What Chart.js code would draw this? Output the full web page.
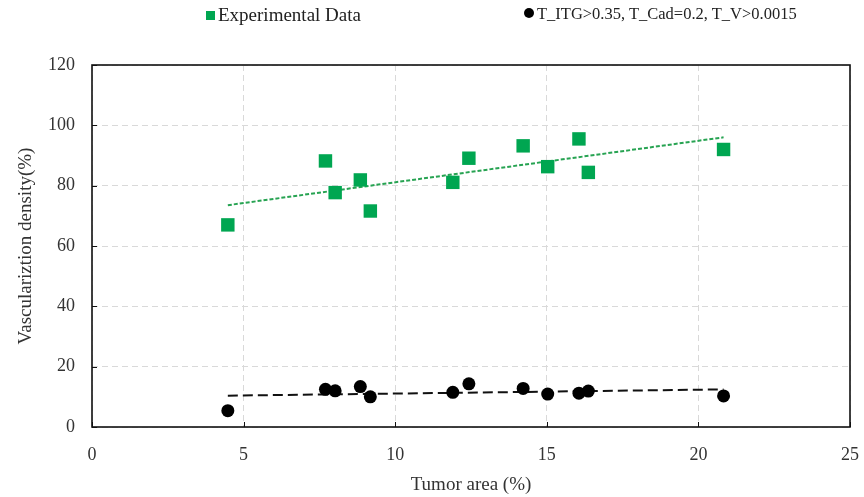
<!DOCTYPE html>
<html>
<head>
<meta charset="utf-8">
<script src="https://cdn.jsdelivr.net/npm/chart.js@4"></script>
<style>
  body { margin: 0; background: #fff; }
  #wrap { position: relative; width: 864px; height: 497px; }
  #legend { position: absolute; top: 4px; left: 0; width: 864px; height: 24px;
    font-family: 'Liberation Serif', serif; color: #222; }
  .item { position: absolute; top: 0; white-space: nowrap; }
  .mk { display: inline-block; width: 9px; height: 9px; margin-right: 3px; vertical-align: 1px; }
</style>
</head>
<body>
<div id="wrap">
  <canvas id="chart" width="864" height="497"></canvas>
  <div id="legend"></div>
</div>
<script>
// data
const tumorArea = [4.48, 7.7, 8.02, 8.85, 9.18, 11.9, 12.43, 14.22, 15.03, 16.06, 16.37, 20.83]
const experimental = [67.0, 88.2, 77.7, 81.9, 71.6, 81.1, 89.1, 93.2, 86.3, 95.5, 84.4, 92.0]
const simulated = [5.4, 12.5, 12.0, 13.4, 10.0, 11.5, 14.3, 12.8, 10.9, 11.2, 11.9, 10.3]
const seriesNames = ['Experimental Data', 'T_ITG>0.35, T_Cad=0.2, T_V>0.0015']
const xTicks = [0, 5, 10, 15, 20, 25]
const yTicks = [0, 20, 40, 60, 80, 100, 120]

const green = '#00a651'
const font = 'Liberation Serif'

// linear trendline (least squares), like the spreadsheet one
function trend(xs, ys) {
  const n = xs.length
  const mx = xs.reduce((a, b) => a + b, 0) / n
  const my = ys.reduce((a, b) => a + b, 0) / n
  let sxy = 0, sxx = 0
  xs.forEach((x, i) => { sxy += (x - mx) * (ys[i] - my); sxx += (x - mx) * (x - mx) })
  const k = sxy / sxx
  const x0 = Math.min(...xs), x1 = Math.max(...xs)
  return [{ x: x0, y: my + k * (x0 - mx) }, { x: x1, y: my + k * (x1 - mx) }]
}

const pts = ys => tumorArea.map((x, i) => ({ x, y: ys[i] }))

// ================= FRAME + INSIDE TICKS =================
const framePlugin = {
  id: 'frame',
  beforeDatasetsDraw(chart) {
    const { ctx, chartArea: a, scales } = chart
    ctx.save()
    ctx.strokeStyle = '#111'
    ctx.lineWidth = 1
    xTicks.forEach(v => {
      const px = Math.round(scales.x.getPixelForValue(v)) + 0.5
      ctx.beginPath(); ctx.moveTo(px, a.bottom); ctx.lineTo(px, a.bottom - 5); ctx.stroke()
    })
    yTicks.forEach(v => {
      const py = Math.round(scales.y.getPixelForValue(v)) + 0.5
      ctx.beginPath(); ctx.moveTo(a.left, py); ctx.lineTo(a.left + 5, py); ctx.stroke()
    })
    ctx.lineWidth = 1.6
    ctx.strokeRect(a.left, a.top, a.right - a.left, a.bottom - a.top)
    ctx.restore()
  }
}

const gridOpts = { color: '#d9d9d9', lineWidth: 1, tickLength: 0, drawTicks: false }

new Chart(document.getElementById('chart'), {
  type: 'scatter',
  data: {
    datasets: [
      {
        label: seriesNames[0], data: pts(experimental), order: 1,
        pointStyle: 'rect', pointRadius: 9.5, pointHoverRadius: 9.5,
        backgroundColor: green, borderColor: green, borderWidth: 0
      },
      {
        label: seriesNames[1], data: pts(simulated), order: 1,
        pointStyle: 'circle', pointRadius: 6.5, pointHoverRadius: 6.5,
        backgroundColor: '#000', borderColor: '#000', borderWidth: 0
      },
      {
        label: 'trend1', type: 'line', data: trend(tumorArea, experimental), order: 2,
        borderColor: '#27a352', borderWidth: 2, borderDash: [4, 2], pointRadius: 0, fill: false
      },
      {
        label: 'trend2', type: 'line', data: trend(tumorArea, simulated), order: 2,
        borderColor: '#111', borderWidth: 2, borderDash: [10, 5], pointRadius: 0, fill: false
      }
    ]
  },
  options: {
    responsive: false,
    animation: false,
    layout: { padding: { top: 65, right: 14, left: 0, bottom: 0 } },
    plugins: { legend: { display: false }, tooltip: { enabled: false } },
    scales: {
      x: {
        type: 'linear', min: 0, max: 25,
        afterBuildTicks: s => { s.ticks = xTicks.map(v => ({ value: v })) },
        afterFit: s => { s.height = 70; s.paddingRight = 0; s.paddingLeft = 0 },
        grid: gridOpts,
        border: { display: false, dash: [6, 4] },
        ticks: { padding: 17, color: '#333', font: { family: font, size: 18 } },
        title: { display: true, text: 'Tumor area (%)', color: '#333', padding: { top: 0, bottom: 1 },
          font: { family: font, size: 19 } }
      },
      y: {
        type: 'linear', min: 0, max: 120,
        afterBuildTicks: s => { s.ticks = yTicks.map(v => ({ value: v })) },
        afterFit: s => { s.width = 92 },
        grid: gridOpts,
        border: { display: false, dash: [6, 4] },
        ticks: { padding: 17, color: '#333', font: { family: font, size: 18 } },
        title: { display: true, text: 'Vasculariztion density(%)', color: '#333', padding: { top: 15, bottom: 0 },
          font: { family: font, size: 19 } }
      }
    }
  },
  plugins: [framePlugin]
})

// ================= LEGEND =================
const legend = document.getElementById('legend')
const items = [
  { text: seriesNames[0], left: 206, size: 19, mk: 'background:' + green },
  { text: seriesNames[1], left: 524, size: 16.5, mk: 'background:#000;border-radius:50%;width:10px;height:10px' }
]
items.forEach(it => {
  const d = document.createElement('div')
  d.className = 'item'
  d.style.left = it.left + 'px'
  d.style.fontSize = it.size + 'px'
  d.innerHTML = '<span class="mk" style="' + it.mk + '"></span>'
  d.appendChild(document.createTextNode(it.text))
  legend.appendChild(d)
})
</script>
</body>
</html>
